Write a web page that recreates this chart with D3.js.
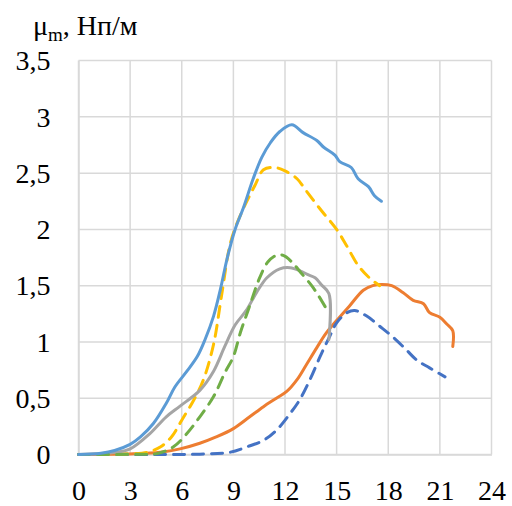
<!DOCTYPE html>
<html>
<head>
<meta charset="utf-8">
<script src="https://cdn.jsdelivr.net/npm/d3@7"></script>
<style>
  html, body { margin: 0; padding: 0; background: #fff; }
</style>
</head>
<body>
<svg id="chart" width="512" height="506"></svg>
<script>
// Axis ticks
const xTicks = [0, 3, 6, 9, 12, 15, 18, 21, 24];
const yTicks = [0, 0.5, 1, 1.5, 2, 2.5, 3, 3.5];

// Series: [x, μm]
const blueSolid = [[0,0],[1.3,0.012],[2.1,0.036],[3,0.09],[3.6,0.156],[4.35,0.275],[5.1,0.455],[5.6,0.6],[6.3,0.74],[6.9,0.87],[7.35,1.02],[7.85,1.23],[8.25,1.47],[8.65,1.75],[9.1,2.0],[9.6,2.2],[10.15,2.45],[10.65,2.64],[11.15,2.77],[11.7,2.87],[12.4,2.93],[13.05,2.86],[13.85,2.79],[14.25,2.73],[14.9,2.66],[15.2,2.6],[15.85,2.55],[16.25,2.45],[16.85,2.38],[17.2,2.3],[17.6,2.25]];
const yellowDashed = [[0,0],[2,0],[3,0.005],[4,0.02],[4.75,0.066],[5.4,0.156],[6,0.305],[6.7,0.485],[7.25,0.66],[7.85,0.98],[8.3,1.4],[8.8,1.86],[9.2,2.05],[9.75,2.24],[10.25,2.39],[10.75,2.53],[11.4,2.55],[12,2.52],[12.7,2.45],[13.25,2.34],[14.1,2.17],[15,2.0],[15.6,1.85],[16.25,1.68],[16.9,1.57],[17.5,1.5]];
const greenDashed = [[0,0],[2,0],[3.5,0.003],[4.55,0.008],[5.5,0.066],[6.3,0.186],[7.05,0.335],[7.85,0.515],[8.5,0.725],[9,0.87],[9.4,1.08],[9.9,1.3],[10.5,1.56],[11.0,1.71],[11.5,1.77],[11.9,1.77],[12.4,1.71],[12.9,1.62],[13.55,1.5],[13.95,1.41],[14.5,1.27]];
const graySolid = [[0,0],[2.2,0.02],[3,0.05],[4.15,0.186],[5.1,0.335],[5.9,0.43],[7.05,0.57],[7.85,0.74],[8.5,0.96],[9.1,1.15],[9.75,1.28],[10.35,1.44],[10.95,1.57],[11.7,1.65],[12.3,1.66],[12.9,1.63],[13.3,1.6],[13.75,1.57],[14.1,1.51],[14.55,1.43],[14.55,1.02]];
const orangeSolid = [[0,0],[3.2,0.006],[4.75,0.02],[5.9,0.05],[7.05,0.1],[8,0.156],[9,0.23],[9.95,0.335],[10.75,0.425],[11.5,0.5],[12.1,0.56],[12.7,0.665],[13.25,0.8],[13.85,0.95],[14.4,1.08],[15,1.19],[15.75,1.32],[16.55,1.46],[17.1,1.5],[17.6,1.51],[18.2,1.5],[18.85,1.44],[19.45,1.37],[20.05,1.34],[20.4,1.26],[21,1.22],[21.4,1.16],[21.75,1.1],[21.75,0.96]];
const blueDashed = [[0,0],[5,0],[7.05,0.003],[8.8,0.02],[9.75,0.066],[10.75,0.126],[11.5,0.215],[12.3,0.365],[12.85,0.485],[13.45,0.665],[14.05,0.874],[14.6,1.05],[15,1.17],[15.6,1.26],[16.05,1.28],[16.75,1.23],[17.5,1.14],[18.3,1.04],[19.05,0.93],[19.65,0.84],[20.4,0.77],[21.3,0.69]];

const seriesList = [
  { data: orangeSolid,  color: "#ED7D31", dash: null },
  { data: blueDashed,   color: "#4472C4", dash: "11,8" },
  { data: yellowDashed, color: "#FFC000", dash: "11,8" },
  { data: graySolid,    color: "#A5A5A5", dash: null },
  { data: greenDashed,  color: "#70AD47", dash: "11,8" },
  { data: blueSolid,    color: "#5B9BD5", dash: null }
];

const svg = d3.select("#chart");
const plotLeft = 78.5, plotRight = 491.5, plotTop = 60.6, plotBottom = 454.5;
const serifFont = '"Liberation Serif", "Times New Roman", serif';

const x = d3.scaleLinear().domain([0, 24]).range([plotLeft, plotRight]);
const y = d3.scaleLinear().domain([0, 3.5]).range([plotBottom, plotTop]);
const fmt = d => String(d).replace(".", ",");

// Gridlines
const grid = svg.append("g").attr("stroke", "#D9D9D9").attr("stroke-width", 1.5);
grid.selectAll("line.v").data(xTicks).join("line").attr("class", "v")
  .attr("x1", d => x(d)).attr("x2", d => x(d))
  .attr("y1", plotTop).attr("y2", plotBottom);
grid.selectAll("line.h").data(yTicks).join("line").attr("class", "h")
  .attr("x1", plotLeft).attr("x2", plotRight)
  .attr("y1", d => y(d)).attr("y2", d => y(d));

// Axes
const yAxis = svg.append("g").attr("transform", `translate(${plotLeft},0)`)
  .call(d3.axisLeft(y).tickValues(yTicks).tickFormat(fmt).tickSize(0).tickPadding(28));
yAxis.attr("font-family", serifFont).attr("font-size", 28);
yAxis.select(".domain").attr("stroke", "#D9D9D9").attr("stroke-width", 1.5);
yAxis.selectAll(".tick text")
  .attr("x", -28).attr("dy", "0.33em")
  .attr("text-anchor", "end").attr("fill", "#000");

const xAxis = svg.append("g").attr("transform", `translate(0,${plotBottom})`)
  .call(d3.axisBottom(x).tickValues(xTicks).tickFormat(fmt).tickSize(0).tickPadding(20));
xAxis.attr("font-family", serifFont).attr("font-size", 28);
xAxis.select(".domain").attr("stroke", "#D9D9D9").attr("stroke-width", 1.5);
xAxis.selectAll(".tick text")
  .attr("y", 45.5).attr("dy", null)
  .attr("text-anchor", "middle").attr("fill", "#000");

// Curves
const line = d3.line()
  .x(d => x(d[0])).y(d => y(d[1]))
  .curve(d3.curveCatmullRom.alpha(0.5));

svg.append("g").selectAll("path").data(seriesList).join("path")
  .attr("d", s => line(s.data))
  .attr("fill", "none")
  .attr("stroke", s => s.color)
  .attr("stroke-width", 3)
  .attr("stroke-linecap", "round")
  .attr("stroke-linejoin", "round")
  .attr("stroke-dasharray", s => s.dash);

// Axis title
const title = svg.append("text").attr("x", 33).attr("y", 35)
  .attr("font-family", serifFont).attr("font-size", 28).attr("fill", "#000");
title.append("tspan").text("μ");
title.append("tspan").attr("font-size", 19).attr("dy", 6).text("m");
title.append("tspan").attr("dy", -6).text(", Нп/м");
</script>
</body>
</html>
